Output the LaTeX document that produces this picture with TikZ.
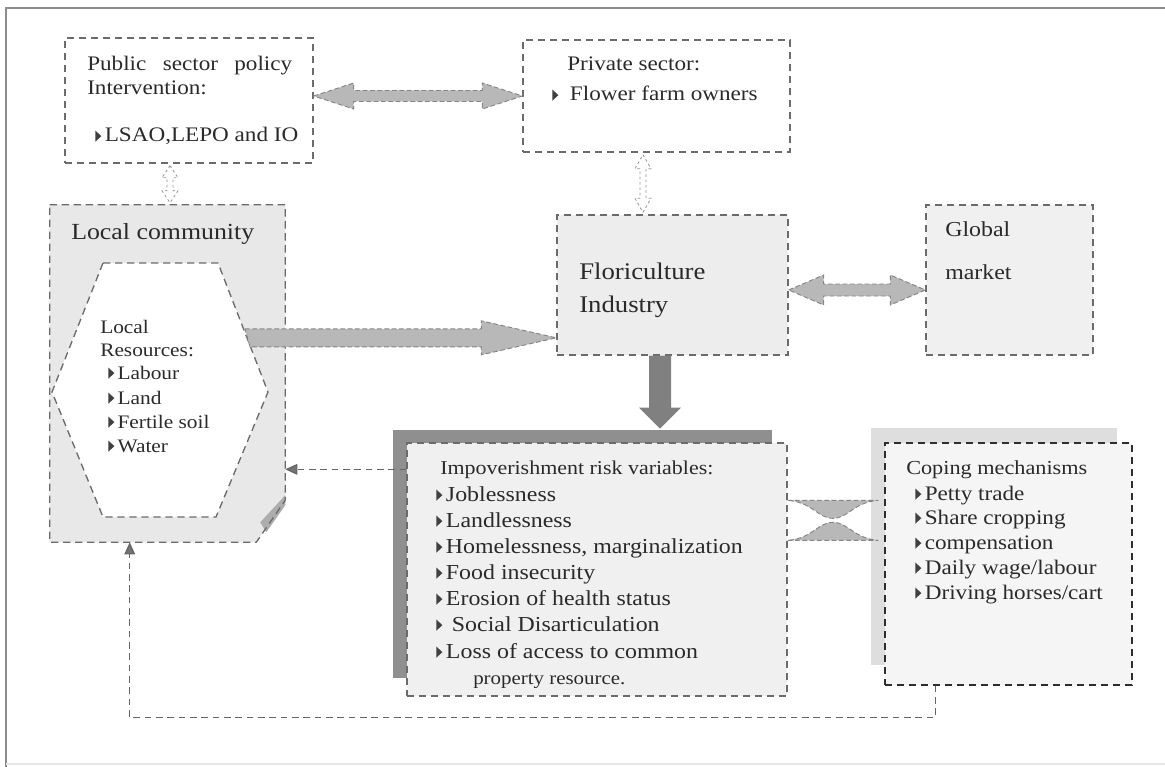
\documentclass[tikz,border=0pt]{standalone}
\usepackage{fontspec}
\setmainfont{Liberation Serif}[FakeStretch=1.12]
\usetikzlibrary{calc,arrows.meta}
\definecolor{txtc}{HTML}{2a2a2a}
\newcommand\bul{\tikz[baseline=0pt,x=1pt,y=1pt]\fill[black!75](0,0.2)--(0,8.6)--(4.6,4.4)--cycle;}
\newcommand\fsz[1]{\fontsize{#1}{#1}\selectfont}
\begin{document}
\begin{tikzpicture}[x=0.75pt,y=-0.75pt,
  dbox/.style={draw=black!58, dash pattern=on 5.5pt off 3.5pt, line width=1pt, inner sep=0pt},
  txt/.style={anchor=base west, inner sep=0pt, text=txtc, font=\fsz{15.5}},
  fatarr/.style={fill=black!28, draw=black!48, dash pattern=on 3.5pt off 2pt, line width=0.7pt},
  thinarr/.style={draw=black!42, dash pattern=on 2pt off 2pt, line width=0.6pt},
  dasharr/.style={draw=black!60, dash pattern=on 5pt off 3.5pt, line width=0.95pt, -{Triangle[length=9pt,width=8pt,fill=black!55]}}
]
\useasboundingbox (0,0) rectangle (1165,767);
\fill[white] (0,0) rectangle (1165,767);
% frame
\draw[black!45, line width=1.2pt] (6,767) -- (6,8) -- (1165,8);
\draw[black!10, line width=1pt] (6,764) -- (1165,764);

% boxes
\node (pub) [dbox, minimum width=186pt, minimum height=93.75pt] at (189,100.5) {};
\node (priv) [dbox, minimum width=200.25pt, minimum height=84pt] at (656.5,96) {};
\node (loc) [minimum width=176.25pt, minimum height=252.75pt, inner sep=0pt] at (167.5,373.5) {};
\fill[black!9] (loc.north west) -- (loc.north east) -- ($(loc.south east)+(0,-42)$) -- ($(loc.south east)+(-29,0)$) -- (loc.south west) -- cycle;
\fill[black!32] ($(loc.south east)+(0,-47)$) -- ($(loc.south east)+(0,-37)$) -- ($(loc.south east)+(-19,-10)$) -- ($(loc.south east)+(-25,-20)$) -- cycle;
\draw[dbox] (loc.north west) -- (loc.north east) -- ($(loc.south east)+(0,-42)$) -- ($(loc.south east)+(-29,0)$) -- (loc.south west) -- cycle;
\draw[dbox, fill=white] (103,263) coordinate (h1) -- (218,263) coordinate (h2) -- (268,392) coordinate (h3) -- (216,517) coordinate (h4) -- (103,517) coordinate (h5) -- (52,392) coordinate (h6) -- cycle;
\node (flo) [dbox, fill=black!7, minimum width=173.25pt, minimum height=105pt] at (672.5,285) {};
\node (glob) [dbox, fill=black!6, minimum width=125.25pt, minimum height=112.5pt] at (1009.5,280) {};
\fill[black!44] (393,430) rectangle (772,678);
\node (imp) [dbox, fill=black!6, minimum width=285pt, minimum height=189.75pt] at (597,569.5) {};
\fill[black!13] (871,428) rectangle (1117,665);
\node (cop) [dbox, draw=black!82, fill=black!4, minimum width=185.25pt, minimum height=181.5pt] at (1008.5,564) {};

% top double arrow
\coordinate (pa) at (pub.east |- priv.west);
\draw[fatarr] (pa) -- ++(40,-13) -- ++(0,7.5) -- ($(priv.west)+(-40,-5.5)$) -- ++(0,-7.5) -- (priv.west) -- ++(-40,13) -- ++(0,-7.5) -- ($(pa)+(40,5.5)$) -- ++(0,7.5) -- cycle;
% floriculture <-> global
\coordinate (fa) at ($(flo.east)+(0,5)$);
\coordinate (ga) at (glob.west |- fa);
\draw[fatarr] (fa) -- ++(35,-15) -- ++(0,9) -- ($(ga)+(-35,-6)$) -- ++(0,-9) -- (ga) -- ++(-35,15) -- ++(0,-9) -- ($(fa)+(35,6)$) -- ++(0,9) -- cycle;
% local -> floriculture
\coordinate (la) at ($(h2)!0.58!(h3)$);
\coordinate (fw) at (flo.west |- la);
\draw[fatarr] ($(la)+(-2,-9)$) -- ($(fw)+(-75,-9)$) -- ++(0,-8) -- (fw) -- ++(-75,17) -- ++(0,-8) -- ($(la)+(3,9)$) -- cycle;
% floriculture -> impoverishment
\coordinate (fd) at ($(flo.south)+(-12.5,0)$);
\fill[black!50] ($(fd)+(-11,0)$) -- ($(fd)+(-11,52)$) -- ($(fd)+(-21,52)$) -- ($(fd)+(0,73)$) -- ($(fd)+(21,52)$) -- ($(fd)+(11,52)$) -- ($(fd)+(11,0)$) -- cycle;
% small vertical double arrows
\coordinate (sa) at ($(pub.south)+(-19,2)$);
\coordinate (sb) at ($(loc.north -| sa)+(0,-2)$);
\draw[thinarr] (sa) -- ++(8,12) -- ++(-5,0) -- ($(sb)+(3,-12)$) -- ++(5,0) -- (sb) -- ++(-8,-12) -- ++(5,0) -- ($(sa)+(-3,12)$) -- ++(-5,0) -- cycle;
\coordinate (sc) at ($(priv.south)+(-13.5,2)$);
\coordinate (sd) at ($(flo.north -| sc)+(0,-2)$);
\draw[thinarr] (sc) -- ++(8,14) -- ++(-5,0) -- ($(sd)+(3,-14)$) -- ++(5,0) -- (sd) -- ++(-8,-14) -- ++(5,0) -- ($(sc)+(-3,14)$) -- ++(-5,0) -- cycle;
% impoverishment <-> coping (bowtie)
\coordinate (u1) at ($(imp.north east)+(0,58)$);
\coordinate (u2) at ($(cop.north west)+(-6,58)$);
\draw[fatarr] (u1) -- (u2) .. controls ($(u2)+(-25,2)$) and ($(u2)+(-30,18)$) .. ($(u1)!0.5!(u2)+(0,18)$) .. controls ($(u1)+(30,18)$) and ($(u1)+(25,2)$) .. (u1) -- cycle;
\coordinate (w1) at ($(imp.north east)+(0,98)$);
\coordinate (w2) at ($(cop.north west)+(-6,98)$);
\draw[fatarr] (w1) -- (w2) .. controls ($(w2)+(-25,-2)$) and ($(w2)+(-30,-18)$) .. ($(w1)!0.5!(w2)+(0,-18)$) .. controls ($(w1)+(30,-18)$) and ($(w1)+(25,-2)$) .. (w1) -- cycle;
% dashed feedback arrows
\coordinate (ia) at ($(imp.north west)+(0,27)$);
\draw[dasharr] (ia) -- (ia -| loc.east);
\coordinate (cb) at ($(cop.south west)+(51,0)$);
\draw[dasharr] (cb) -- ++(0,32) -| ($(loc.south west)+(80,0)$);

% texts
\node (t1) [txt] at (87,71) {\hbox to 153.75pt{Public\hfill sector\hfill policy}};
\node (t2) [txt] at (87,95) {Intervention:};
\node (t3) [txt] at (95,142) {\bul\,LSAO,LEPO and IO};
\node (t4) [txt] at (567,71) {Private sector:};
\node (t5) [txt] at (552,101) {\bul\ \ Flower farm owners};
\node (t6) [txt, font=\fsz{17.3}] at (71,239) {Local community};
\node (t7) [txt, font=\fsz{14.3}] at (100,333) {Local};
\node (t8) [txt, font=\fsz{14.3}] at (100,356) {Resources:};
\node (t9) [txt, font=\fsz{14.3}] at (108,379) {\bul\,Labour};
\node (t10) [txt, font=\fsz{14.3}] at (108,404) {\bul\,Land};
\node (t11) [txt, font=\fsz{14.3}] at (108,428) {\bul\,Fertile soil};
\node (t12) [txt, font=\fsz{14.3}] at (108,452) {\bul\,Water};
\node (t13) [txt, font=\fsz{17.9}] at (579,279) {Floriculture};
\node (t14) [txt, font=\fsz{17.9}] at (579,312) {Industry};
\node (t15) [txt, font=\fsz{16}] at (945,236) {Global};
\node (t16) [txt, font=\fsz{16}] at (945,279) {market};
\node (t17) [txt, font=\fsz{14.7}] at (440,474) {Impoverishment risk variables:};
\node (t18) [txt, font=\fsz{16}] at (436,501) {\bul\,Joblessness};
\node (t19) [txt, font=\fsz{16}] at (436,527) {\bul\,Landlessness};
\node (t20) [txt, font=\fsz{16}] at (436,553) {\bul\,Homelessness, marginalization};
\node (t21) [txt, font=\fsz{16}] at (436,579) {\bul\,Food insecurity};
\node (t22) [txt, font=\fsz{16}] at (436,605) {\bul\,Erosion of health status};
\node (t23) [txt, font=\fsz{16}] at (436,631) {\bul\ \,Social Disarticulation};
\node (t24) [txt, font=\fsz{16}] at (436,658) {\bul\,Loss of access to common};
\node (t25) [txt, font=\fsz{14}] at (473,684) {property resource.};
\node (t26) [txt, font=\fsz{14.9}] at (906,474) {Coping mechanisms};
\node (t27) [txt] at (915,500) {\bul\,Petty trade};
\node (t28) [txt] at (915,524) {\bul\,Share cropping};
\node (t29) [txt] at (915,549) {\bul\,compensation};
\node (t30) [txt] at (915,574) {\bul\,Daily wage/labour};
\node (t31) [txt] at (915,599) {\bul\,Driving horses/cart};
\end{tikzpicture}
\end{document}
